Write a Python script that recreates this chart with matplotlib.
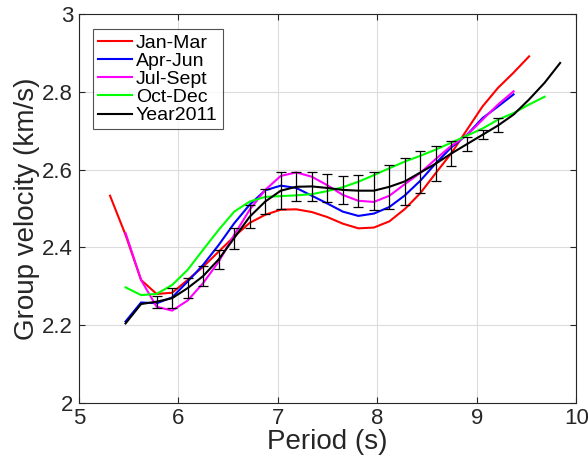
import numpy as np
import matplotlib
matplotlib.use('Agg')
import matplotlib.pyplot as plt

plt.rcParams['font.family'] = ['Liberation Sans', 'DejaVu Sans']

# period grid (s), step ~0.156 s
period = np.array([5.314, 5.47, 5.626, 5.782, 5.938, 6.094, 6.25, 6.406, 6.562, 6.718,
                   6.874, 7.03, 7.186, 7.342, 7.498, 7.654, 7.81, 7.966, 8.122, 8.278,
                   8.434, 8.59, 8.746, 8.902, 9.058, 9.214, 9.37, 9.526, 9.682, 9.838])

# group velocities (km/s)
jan_mar = [2.533, 2.432, 2.316, 2.280, 2.283, 2.316, 2.350, 2.389, 2.428, 2.463,
           2.484, 2.497, 2.498, 2.491, 2.478, 2.461, 2.449, 2.451, 2.467, 2.499,
           2.540, 2.592, 2.643, 2.703, 2.763, 2.811, 2.850, 2.892]
apr_jun = [2.209, 2.258, 2.256, 2.271, 2.312, 2.355, 2.406, 2.462, 2.510, 2.547,
           2.559, 2.553, 2.533, 2.513, 2.492, 2.481, 2.487, 2.504, 2.534, 2.572,
           2.617, 2.658, 2.690, 2.733, 2.763, 2.794]
jul_sep = [2.437, 2.316, 2.247, 2.237, 2.263, 2.308, 2.363, 2.432, 2.497, 2.548,
           2.584, 2.593, 2.582, 2.560, 2.535, 2.520, 2.517, 2.533, 2.563, 2.592,
           2.628, 2.662, 2.689, 2.729, 2.768, 2.802]
oct_dec = [2.297, 2.277, 2.280, 2.303, 2.342, 2.394, 2.445, 2.492, 2.518, 2.530,
           2.532, 2.534, 2.537, 2.545, 2.555, 2.569, 2.586, 2.604, 2.621, 2.636,
           2.652, 2.670, 2.688, 2.706, 2.729, 2.746, 2.768, 2.788]
year2011 = [2.204, 2.254, 2.260, 2.269, 2.295, 2.326, 2.369, 2.424, 2.479, 2.518,
            2.546, 2.556, 2.557, 2.553, 2.548, 2.546, 2.546, 2.556, 2.570, 2.593,
            2.616, 2.642, 2.666, 2.690, 2.714, 2.742, 2.781, 2.824, 2.875]
# error bar half-widths for Year2011 (from 5.78 s to 9.21 s)
year_err = [0.015, 0.025, 0.025, 0.025, 0.025, 0.027, 0.029, 0.032, 0.048, 0.037,
            0.037, 0.037, 0.037, 0.041, 0.049, 0.057, 0.060, 0.054, 0.045, 0.032,
            0.019, 0.012, 0.018]

fig = plt.figure(figsize=(5.88, 4.66), dpi=100)
ax = fig.add_axes([0.134, 0.136, 0.846, 0.833])

lw = 1.5
ax.plot(period[:len(jan_mar)], jan_mar, color='red', lw=lw, label='Jan-Mar')
ax.plot(period[1:1 + len(apr_jun)], apr_jun, color='blue', lw=lw, label='Apr-Jun')
ax.plot(period[1:1 + len(jul_sep)], jul_sep, color='magenta', lw=lw, label='Jul-Sept')
ax.plot(period[1:1 + len(oct_dec)], oct_dec, color=(0, 1, 0), lw=lw, label='Oct-Dec')
ax.plot(period[1:1 + len(year2011)], year2011, color='black', lw=lw, label='Year2011')
ax.errorbar(period[3:3 + len(year_err)], year2011[2:2 + len(year_err)], yerr=year_err,
            fmt='none', ecolor='black', elinewidth=0.9, capsize=3.5, capthick=0.9)

ax.set_xlim(5, 10)
ax.set_ylim(2, 3)
ax.set_xticks([5, 6, 7, 8, 9, 10])
ax.set_yticks([2, 2.2, 2.4, 2.6, 2.8, 3])
ax.set_yticklabels(['2', '2.2', '2.4', '2.6', '2.8', '3'])
ax.tick_params(direction='in', top=True, right=True, labelsize=16, colors='#262626',
               length=4, pad=4)
ax.grid(True, color='#dcdcdc', lw=0.8)
ax.set_axisbelow(True)
for s in ax.spines.values():
    s.set_color('#262626')
    s.set_linewidth(0.8)

ax.set_xlabel('Period (s)', fontsize=20, color='#262626', labelpad=0)
ax.set_ylabel('Group velocity (km/s)', fontsize=20, color='#262626', labelpad=2)

leg = ax.legend(loc='upper left', bbox_to_anchor=(0.029, 0.962), fontsize=14,
                frameon=True, fancybox=False, edgecolor='#262626', handlelength=1.75,
                handletextpad=0.2, labelspacing=0.03, borderpad=0.25, borderaxespad=0)
leg.get_frame().set_linewidth(0.8)

fig.savefig('out.png', dpi=100)
